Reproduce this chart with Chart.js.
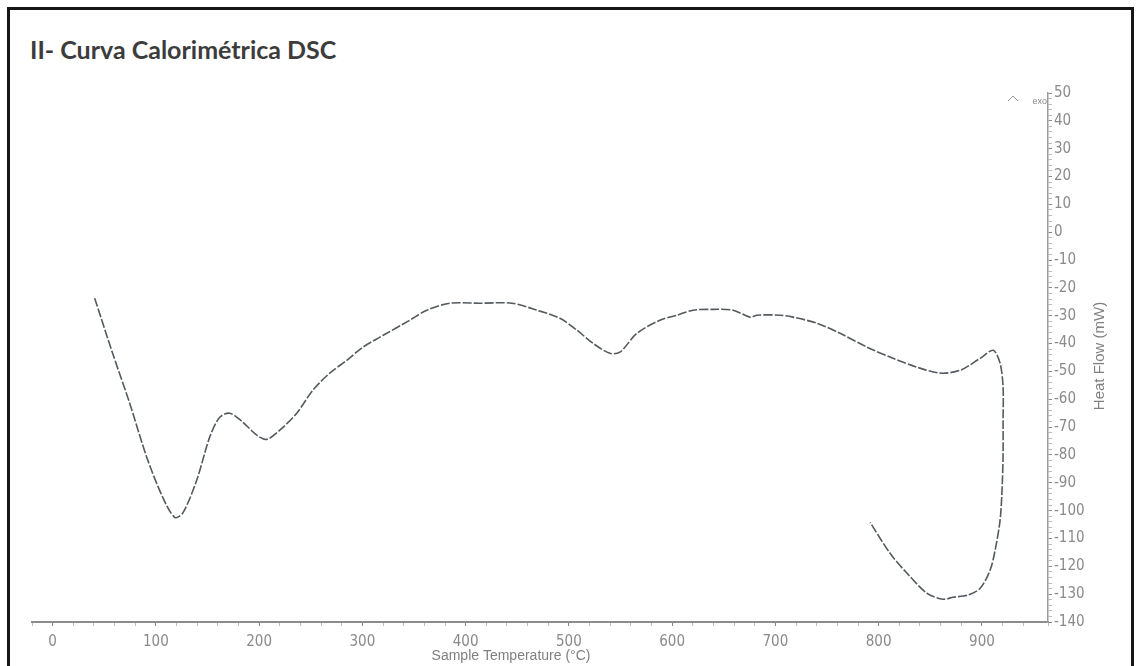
<!DOCTYPE html>
<html>
<head>
<meta charset="utf-8">
<script src="https://cdn.jsdelivr.net/npm/chart.js@4.4.1/dist/chart.umd.min.js"></script>
<style>
  html, body { margin:0; padding:0; background:#fff; width:1140px; height:666px; overflow:hidden; }
  .frame { position:absolute; left:7px; top:7px; width:1127px; height:720px; border:3px solid #161616; box-sizing:border-box; }
  .title { position:absolute; left:30px; top:34px; font-family:Lato, "Open Sans", sans-serif; font-weight:700; font-size:25px; color:#3c3c3c; white-space:nowrap; }
  #myChart { position:absolute; left:0; top:0; }
</style>
</head>
<body>
<div class="frame"></div>
<div class="title">II- Curva Calorimétrica DSC</div>
<canvas id="myChart" width="1140" height="666"></canvas>
<script>

// DSC curve (temperature in °C, heat flow in mW)
var temperature = [40.7, 58.1, 74.6, 91.1, 106.6, 118.2, 126.0, 139.5, 152.1, 161.8, 171.5, 184.1, 197.7, 207.4,
  220.0, 236.4, 251.9, 268.4, 284.9, 300.4, 316.9, 323.6, 345.9, 362.4, 384.7, 413.8, 444.8, 469.0, 491.3,
  507.8, 523.3, 539.7, 549.4, 565.9, 588.2, 604.7, 620.2, 639.5, 658.9, 675.4, 682.2, 704.5, 717.1, 740.3,
  762.6, 788.8, 814.0, 837.2, 859.5, 878.9, 898.3, 910.9, 917.6, 920.5, 920.5, 920.5, 919.6, 917.6, 912.8,
  907.9, 898.3, 885.7, 872.1, 862.4, 846.9, 827.5, 811.0, 791.7];

var heatFlow = [-23.7, -43.5, -61.4, -80.8, -95.2, -102.4, -100.9, -89.1, -73.6, -66.5, -65.0, -68.2, -72.9, -74.4,
  -71.1, -65.0, -56.8, -50.6, -46.0, -41.3, -37.7, -36.3, -31.6, -28.0, -25.5, -25.5, -25.5, -28.0, -30.9,
  -35.2, -39.9, -43.5, -43.1, -36.3, -31.6, -29.8, -28.0, -27.7, -28.0, -30.5, -29.8, -29.8, -30.5, -32.7,
  -36.3, -41.3, -45.3, -48.5, -50.6, -49.6, -45.3, -42.4, -47.1, -55.7, -67.5, -79.4, -91.6, -103.4, -114.2,
  -121.4, -127.9, -130.4, -131.1, -131.8, -129.7, -122.5, -115.3, -104.2];

var xMin = -20, xMax = 964, xStep = 20, xLabelEvery = 100;
var yMin = -140, yMax = 50, yStep = 2, yLabelEvery = 10;

var xTitle = "Sample Temperature (°C)";
var yTitle = "Heat Flow (mW)";
var exoLabel = "exo";

var tickFont = "'Liberation Sans Narrow', 'DejaVu Sans Condensed', sans-serif";

function buildPoints() {
  var pts = [];
  for (var i = 0; i < temperature.length; i++) {
    pts.push({ x: temperature[i], y: heatFlow[i] });
  }
  return pts;
}

function isMajor(v, every) {
  return Math.abs(Math.round(v) % every) === 0;
}

// axis titles + the little "exo" arrow, placed like the scan
var extraText = {
  id: "extraText",
  afterDraw: function (chart) {
    var ctx = chart.ctx;
    var area = chart.chartArea;
    ctx.save();
    ctx.fillStyle = "#808080";
    ctx.textAlign = "center";
    ctx.textBaseline = "middle";

    ctx.font = "14px 'Liberation Sans', sans-serif";
    ctx.fillText(xTitle, 511, 656);

    ctx.translate(1100, 356);
    ctx.rotate(-Math.PI / 2);
    ctx.font = "15px 'Liberation Sans', sans-serif";
    ctx.fillText(yTitle, 0, 0);
    ctx.restore();

    ctx.save();
    ctx.strokeStyle = "#9a9a9a";
    ctx.lineWidth = 1;
    ctx.beginPath();
    ctx.moveTo(area.right - 40, area.top + 8);
    ctx.lineTo(area.right - 35, area.top + 3);
    ctx.lineTo(area.right - 30, area.top + 8);
    ctx.stroke();
    ctx.fillStyle = "#8a8a8a";
    ctx.font = "9px 'Liberation Sans', sans-serif";
    ctx.textAlign = "right";
    ctx.textBaseline = "middle";
    ctx.fillText(exoLabel, area.right - 1, area.top + 9);
    ctx.restore();
  }
};

function printChart() {

  var ctx = document.getElementById("myChart").getContext("2d");
  var chart = new Chart(ctx, {
    type: "line",
    data: {
      datasets: [{
        data: buildPoints(),
        borderColor: "#555a5e",
        borderWidth: 1.6,
        borderDash: [9, 2],
        tension: 0.3,
        pointRadius: 0,
        fill: false
      }]
    },
    options: {
      responsive: false,
      animation: false,
      layout: { padding: { left: 32, top: 93, right: 0, bottom: 0 } },
      plugins: { legend: { display: false }, tooltip: { enabled: false } },
      scales: {
        x: {
          type: "linear",
          min: xMin,
          max: xMax,
          afterFit: function (s) { s.height = 44; },
          border: { display: true, color: "#8c8c8c", width: 2 },
          grid: {
            drawOnChartArea: false,
            drawTicks: true,
            tickLength: 4,
            tickColor: function (c) { return c.tick && isMajor(c.tick.value, xLabelEvery) ? "#888" : "#bbb"; }
          },
          ticks: {
            stepSize: xStep,
            autoSkip: false,
            maxRotation: 0,
            padding: 7,
            color: "#8a8a8a",
            font: { family: tickFont, size: 15 },
            callback: function (v) { return isMajor(v, xLabelEvery) ? v : ""; }
          }
        },
        y: {
          position: "right",
          min: yMin,
          max: yMax,
          afterFit: function (s) { s.width = 92; },
          border: { display: true, color: "#9a9a9a", width: 1.5 },
          grid: {
            drawOnChartArea: false,
            drawTicks: true,
            tickLength: 4,
            tickColor: function (c) { return c.tick && isMajor(c.tick.value, yLabelEvery) ? "#888" : "#bbb"; }
          },
          ticks: {
            stepSize: yStep,
            autoSkip: false,
            padding: 2,
            color: "#8a8a8a",
            font: { family: tickFont, size: 15 },
            callback: function (v) { return isMajor(v, yLabelEvery) ? v : ""; }
          }
        }
      }
    },
    plugins: [extraText]
  });
}

printChart();
</script>
</body>
</html>
